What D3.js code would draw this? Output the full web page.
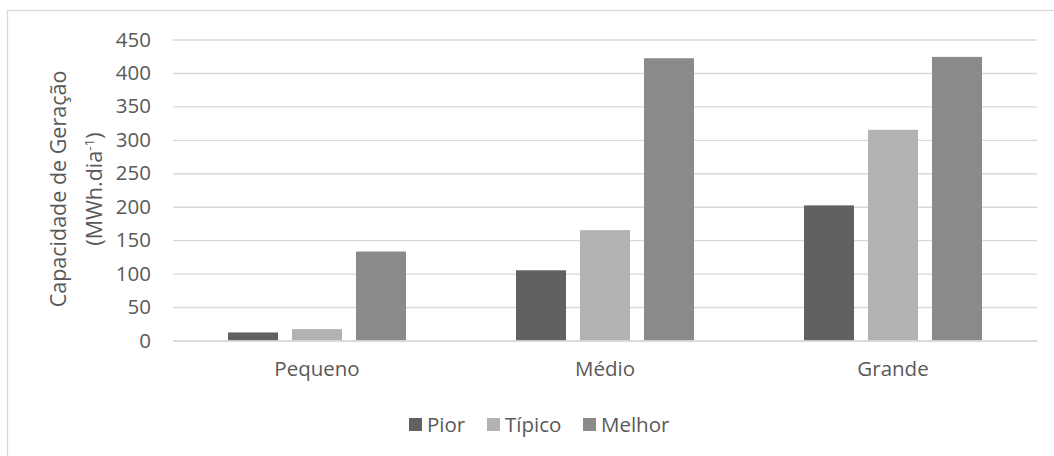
<!DOCTYPE html>
<html><head><meta charset="utf-8">
<script src="https://cdn.jsdelivr.net/npm/d3@7"></script>
<style>body{margin:0;background:#fff}svg{display:block}</style>
</head><body>
<svg id="c" width="1054" height="456"></svg>
<script>
const categories = ["Pequeno", "Médio", "Grande"];
const seriesNames = ["Pior", "Típico", "Melhor"];
const pior = [12, 105, 202];
const tipico = [17, 165, 315];
const melhor = [133, 422, 424];
const yTicks = [0, 50, 100, 150, 200, 250, 300, 350, 400, 450];
const colors = ["#616161", "#b2b2b2", "#8a8a8a"];
const seriesValues = [pior, tipico, melhor];

const font = "'Open Sans', sans-serif";
const fs = 20.5;
const textColor = "#595959";
const svg = d3.select("#c");

svg.append("rect").attr("x", 7.5).attr("y", 10.5).attr("width", 1100).attr("height", 500)
  .attr("fill", "#fff").attr("stroke", "#d9d9d9").attr("stroke-width", 1.3);

const pLeft = 173, pRight = 1037, pTop = 39.5, pBottom = 340.5;
const x = d3.scaleBand().domain(categories).range([pLeft, pRight]).paddingInner(0).paddingOuter(0);
const xs = d3.scaleBand().domain(seriesNames).range([0, 178]).paddingInner(14/64).paddingOuter(0);
const y = d3.scaleLinear().domain([0, 450]).range([pBottom, pTop]);

const yAxis = d3.axisLeft(y).tickValues(yTicks).tickSize(-(pRight - pLeft)).tickPadding(20);
const gy = svg.append("g").attr("transform", `translate(${pLeft},0)`).call(yAxis);
gy.select(".domain").remove();
gy.selectAll(".tick line").attr("stroke", "#d9d9d9").attr("stroke-width", 1.4);
gy.selectAll(".tick text").attr("font-family", font).attr("font-size", fs).attr("fill", textColor).attr("x", -22);

const groupOffset = (x.bandwidth() - 178) / 2;
seriesNames.forEach((s, si) => {
  svg.append("g").selectAll("rect").data(categories).join("rect")
    .attr("x", c => x(c) + groupOffset + xs(s))
    .attr("width", xs.bandwidth())
    .attr("y", (c, i) => y(seriesValues[si][i]))
    .attr("height", (c, i) => y(0) - y(seriesValues[si][i]))
    .attr("fill", colors[si]);
});

const xAxis = d3.axisBottom(x).tickSize(0).tickPadding(21);
const gx = svg.append("g").attr("transform", `translate(0,${pBottom})`).call(xAxis);
gx.select(".domain").attr("stroke", "#d9d9d9").attr("stroke-width", 1.4);
gx.selectAll(".tick text").attr("font-family", font).attr("font-size", fs).attr("fill", textColor);

// y title
const tfs = 21.5;
svg.append("text").attr("transform", "rotate(-90)")
  .attr("font-family", font).attr("font-size", tfs).attr("fill", textColor).attr("text-anchor", "middle")
  .attr("x", -189).attr("y", 66).text("Capacidade de Geração");
const t2 = svg.append("text").attr("transform", "rotate(-90)")
  .attr("font-family", font).attr("font-size", tfs).attr("fill", textColor).attr("text-anchor", "middle")
  .attr("x", -189).attr("y", 102);
t2.append("tspan").text("(MWh.dia");
t2.append("tspan").attr("font-size", 13.5).attr("dy", -8).text("-1");
t2.append("tspan").attr("dy", 8).text(")");

// legend
const legX = [409, 487, 583];
const lg = svg.append("g");
seriesNames.forEach((s, i) => {
  lg.append("rect").attr("x", legX[i]).attr("y", 418).attr("width", 13).attr("height", 13).attr("fill", colors[i]);
  lg.append("text").attr("x", legX[i] + 18).attr("y", 432).attr("font-family", font).attr("font-size", fs)
    .attr("fill", textColor).text(s);
});
</script>
</body></html>
